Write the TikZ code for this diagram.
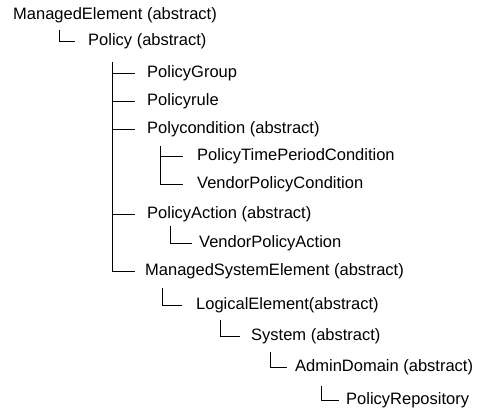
\documentclass[tikz,border=0pt]{standalone}
\usepackage{fontspec}
\setmainfont{Liberation Sans}
\begin{document}
\begin{tikzpicture}[x=1pt,y=-1pt,
  lbl/.style={anchor=west,inner sep=0pt,font=\fontsize{16.5}{18}\selectfont},
  link/.style={draw=black,line width=0.8pt}]
\useasboundingbox (0,0) rectangle (483,417);
% class names
\node[lbl] (me)   at (13,15)  {ManagedElement (abstract)};
\node[lbl] (pol)  at (88,41)  {Policy (abstract)};
\node[lbl] (pg)   at (147,73) {PolicyGroup};
\node[lbl] (pr)   at (147,101) {Policyrule};
\node[lbl] (pc)   at (147,129) {Polycondition (abstract)};
\node[lbl] (ptpc) at (197,156) {PolicyTimePeriodCondition};
\node[lbl] (vpc)  at (197,184) {VendorPolicyCondition};
\node[lbl] (pa)   at (147,214) {PolicyAction (abstract)};
\node[lbl] (vpa)  at (199,243) {VendorPolicyAction};
\node[lbl] (mse)  at (145,271) {ManagedSystemElement (abstract)};
\node[lbl] (le)   at (196,305) {LogicalElement(abstract)};
\node[lbl] (sys)  at (251,336) {System (abstract)};
\node[lbl] (ad)   at (295,367) {AdminDomain (abstract)};
\node[lbl] (rep)  at (346,400) {PolicyRepository};
% tops of the tree branches
\coordinate (t0) at (59,30);
\coordinate (t1) at (112,62);
\coordinate (t2) at (160,146);
\coordinate (t3) at (170,226);
\coordinate (t4) at (162,288);
\coordinate (t5) at (220,320);
\coordinate (t6) at (270,352);
\coordinate (t7) at (321,386);
% connectors
\draw[link] (t0) |- ([xshift=-13pt]pol.west);
\draw[link] (t1) |- ([xshift=-10pt]mse.west);
\draw[link] (t1 |- pg.west) -- ([xshift=-12pt]pg.west);
\draw[link] (t1 |- pr.west) -- ([xshift=-12pt]pr.west);
\draw[link] (t1 |- pc.west) -- ([xshift=-12pt]pc.west);
\draw[link] (t1 |- pa.west) -- ([xshift=-12pt]pa.west);
\draw[link] (t2) |- ([xshift=-14pt]vpc.west);
\draw[link] (t2 |- ptpc.west) -- ([xshift=-14pt]ptpc.west);
\draw[link] (t3) |- ([xshift=-7pt]vpa.west);
\draw[link] (t4) |- ([xshift=-14pt]le.west);
\draw[link] (t5) |- ([xshift=-11pt]sys.west);
\draw[link] (t6) |- ([xshift=-8pt]ad.west);
\draw[link] (t7) |- ([xshift=-7pt]rep.west);
\end{tikzpicture}
\end{document}
